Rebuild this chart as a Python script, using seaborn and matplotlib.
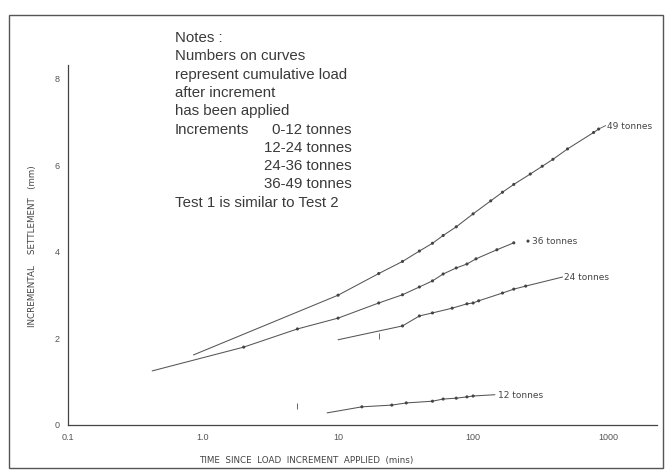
import numpy as np
import pandas as pd
import seaborn as sns
import matplotlib.pyplot as plt
from matplotlib.patches import Rectangle
from matplotlib.ticker import NullLocator

# ---- data: incremental settlement (mm) vs time since load increment (mins) ----
# fitted curves (line vertices)
t49_line = [0.85, 10, 20, 30, 40, 50, 60, 75, 100, 135, 165, 200, 265, 325, 390, 500, 780, 850]
s49_line = [1.62, 3.00, 3.50, 3.78, 4.02, 4.20, 4.38, 4.58, 4.88, 5.18, 5.38, 5.56, 5.80, 5.98, 6.14, 6.38, 6.76, 6.84]
t36_line = [0.42, 2, 5, 10, 20, 30, 40, 50, 60, 75, 90, 105, 150, 200]
s36_line = [1.25, 1.80, 2.22, 2.47, 2.82, 3.01, 3.19, 3.33, 3.49, 3.63, 3.72, 3.84, 4.05, 4.21]
t24_line = [10, 30, 40, 50, 70, 90, 100, 110, 165, 200, 245, 460]
s24_line = [1.97, 2.29, 2.52, 2.59, 2.70, 2.80, 2.82, 2.87, 3.05, 3.14, 3.21, 3.42]
t12_line = [8.3, 15, 25, 32, 50, 60, 75, 90, 100, 145]
s12_line = [0.28, 0.42, 0.46, 0.51, 0.55, 0.60, 0.62, 0.65, 0.67, 0.70]

# observed readings
t49_obs = [10, 20, 30, 40, 50, 60, 75, 100, 135, 165, 200, 265, 325, 390, 500, 780, 850]
s49_obs = [3.00, 3.50, 3.78, 4.02, 4.20, 4.38, 4.58, 4.88, 5.18, 5.38, 5.56, 5.80, 5.98, 6.14, 6.38, 6.76, 6.84]
t36_obs = [2, 5, 10, 20, 30, 40, 50, 60, 75, 90, 105, 150, 200, 255]
s36_obs = [1.80, 2.22, 2.47, 2.82, 3.01, 3.19, 3.33, 3.49, 3.63, 3.72, 3.84, 4.05, 4.21, 4.25]
t24_obs = [30, 40, 50, 70, 90, 100, 110, 165, 200, 245]
s24_obs = [2.29, 2.52, 2.59, 2.70, 2.80, 2.82, 2.87, 3.05, 3.14, 3.21]
t12_obs = [15, 25, 32, 50, 60, 75, 90, 100]
s12_obs = [0.42, 0.46, 0.51, 0.55, 0.60, 0.62, 0.65, 0.67]

# isolated readings plotted with a tick symbol
t_tick = [5, 20]
s_tick = [0.44, 2.06]

loads = ["49 tonnes", "36 tonnes", "24 tonnes", "12 tonnes"]
label_t = [985, 272, 470, 152]
label_s = [6.91, 4.25, 3.42, 0.68]

x_ticks = [0.1, 1, 10, 100, 1000]
x_ticklabels = ["0.1", "1.0", "10", "100", "1000"]
y_ticks = [0, 2, 4, 6, 8]

notes = ["Notes :", "Numbers on curves", "represent cumulative load",
         "after increment", "has been applied", "Increments"]
increments = ["0-12 tonnes", "12-24 tonnes", "24-36 tonnes", "36-49 tonnes"]
last_note = "Test 1 is similar to Test 2"

# ---- tables ----
line_sets = [(t49_line, s49_line), (t36_line, s36_line), (t24_line, s24_line), (t12_line, s12_line)]
obs_sets = [(t49_obs, s49_obs), (t36_obs, s36_obs), (t24_obs, s24_obs), (t12_obs, s12_obs)]
lines = pd.concat([pd.DataFrame({"time": t, "settlement": s, "load": name})
                   for (t, s), name in zip(line_sets, loads)], ignore_index=True)
obs = pd.concat([pd.DataFrame({"time": t, "settlement": s, "load": name})
                 for (t, s), name in zip(obs_sets, loads)], ignore_index=True)
ticks = pd.DataFrame({"time": t_tick, "settlement": s_tick})

# ---- figure ----
sns.set_style("white")
plt.rcParams["font.family"] = ["Liberation Sans", "DejaVu Sans"]

W, H = 672, 475
fig = plt.figure(figsize=(W / 100, H / 100), dpi=100)
fig.patch.set_facecolor("white")

def fx(px):
    return px / W

def fy(py):
    return 1 - py / H

ax = fig.add_axes([fx(68), fy(425), fx(657) - fx(68), fy(65) - fy(425)])

ink = "#444444"
sns.lineplot(data=lines, x="time", y="settlement", hue="load",
             palette={n: "#555555" for n in loads}, estimator=None, sort=False,
             linewidth=0.75, legend=False, ax=ax)
sns.scatterplot(data=obs, x="time", y="settlement", color=ink, s=5,
                edgecolor="none", legend=False, ax=ax, zorder=3)
sns.scatterplot(data=ticks, x="time", y="settlement", color="#666666", marker="|",
                s=14, linewidth=0.7, legend=False, ax=ax, zorder=3)

ax.set_xscale("log")
ax.set_xlim(0.1, 2300)
ax.set_ylim(0, 8.32)
ax.xaxis.set_minor_locator(NullLocator())
ax.set_xticks(x_ticks)
ax.set_xticklabels(x_ticklabels)
ax.set_yticks(y_ticks)
ax.set_yticklabels([str(v) for v in y_ticks])
ax.tick_params(direction="inout", length=4, width=0.6, colors="#444444",
               labelsize=6.5, labelcolor="#555555", pad=4)
for side in ["top", "right"]:
    ax.spines[side].set_visible(False)
for side in ["left", "bottom"]:
    ax.spines[side].set_color("#444444")
    ax.spines[side].set_linewidth(0.9)
ax.set_xlabel("")
ax.set_ylabel("")
ax.patch.set_alpha(0)

# curve labels
for name, lt, ls in zip(loads, label_t, label_s):
    ax.text(lt, ls, name, fontsize=6.5, color="#444444", va="center", ha="left",
            family=["DejaVu Sans"])
ax.plot([850, 960], [6.84, 6.92], color="#555555", lw=0.6)

# axis titles
fig.text(fx(306), fy(460), "TIME  SINCE  LOAD  INCREMENT  APPLIED  (mins)",
         fontsize=6.3, color="#444444", ha="center", va="center", family=["DejaVu Sans"])
fig.text(fx(33), fy(246), "INCREMENTAL    SETTLEMENT   (mm)", rotation=90,
         fontsize=6.3, color="#444444", ha="center", va="center", family=["DejaVu Sans"])

# notes block
base, step = 42, 18.3
note_kw = dict(fontsize=10.8, color="#3a3a3a", va="baseline")
for i, line in enumerate(notes):
    fig.text(fx(175), fy(base + i * step), line, ha="left", **note_kw)
for j, line in enumerate(increments):
    fig.text(fx(352), fy(base + (5 + j) * step), line, ha="right", **note_kw)
fig.text(fx(175), fy(base + 9 * step), last_note, ha="left", **note_kw)

# outer frame
fig.patches.append(Rectangle((fx(9), fy(468)), fx(663) - fx(9), fy(15) - fy(468),
                             transform=fig.transFigure, fill=False,
                             edgecolor="#555555", linewidth=1.0))

fig.savefig("out.png", dpi=100, facecolor="white")
